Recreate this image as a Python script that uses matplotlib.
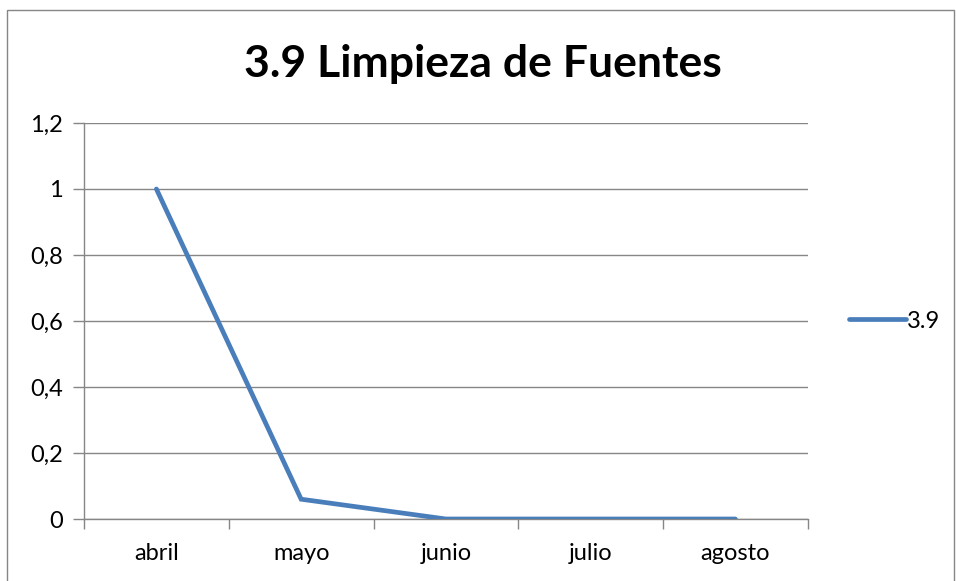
import matplotlib
matplotlib.use('Agg')
import matplotlib.pyplot as plt
import numpy as np

### data ###
meses = ['abril', 'mayo', 'junio', 'julio', 'agosto']
valores = [1, 0.06, 0, 0, 0]
yticks = [0, 0.2, 0.4, 0.6, 0.8, 1.0, 1.2]
ylabels = ['0', '0,2', '0,4', '0,6', '0,8', '1', '1,2']
serie = '3.9'
titulo = '3.9 Limpieza de Fuentes'

plt.rcParams['font.family'] = ['Lato', 'DejaVu Sans']

fig = plt.figure(figsize=(9.56, 5.81), dpi=100)
ax = fig.add_axes([0.0879, 0.1067, 0.757, 0.6816])

gris = '#868686'
x = np.arange(len(meses)) + 0.5
ax.plot(x, valores, color='#4A7EBB', linewidth=3.4, solid_capstyle='round',
        solid_joinstyle='miter', label=serie, zorder=3)

ax.set_xlim(0, len(meses))
ax.set_ylim(0, 1.2)
ax.set_yticks(yticks)
ax.set_yticklabels(ylabels, fontsize=17)
ax.set_xticks(np.arange(len(meses) + 1))
ax.set_xticklabels([])
ax.set_xticks(x, minor=True)
ax.set_xticklabels(meses, minor=True, fontsize=17)
ax.tick_params(axis='x', which='minor', length=0, pad=17)
ax.tick_params(axis='x', which='major', length=7, color=gris, width=1)
ax.tick_params(axis='y', length=8, color=gris, width=1, pad=7)
ax.grid(axis='y', color=gris, linewidth=1)
for s in ['top', 'right']:
    ax.spines[s].set_visible(False)
for s in ['left', 'bottom']:
    ax.spines[s].set_color(gris)
    ax.spines[s].set_linewidth(1)

fig.text(0.505, 0.89, titulo, fontsize=32, fontweight='bold', ha='center', va='center')

leg = ax.legend(loc='center left', bbox_to_anchor=(1.028, 0.5), frameon=False,
                fontsize=17, handlelength=2.4, handletextpad=0.05)

# outer chart border
fig.patches.append(plt.Rectangle((0.0073, -0.01), 0.991, 0.9928, transform=fig.transFigure,
                                 fill=False, edgecolor=gris, linewidth=1))

plt.savefig('out.png', dpi=100)
